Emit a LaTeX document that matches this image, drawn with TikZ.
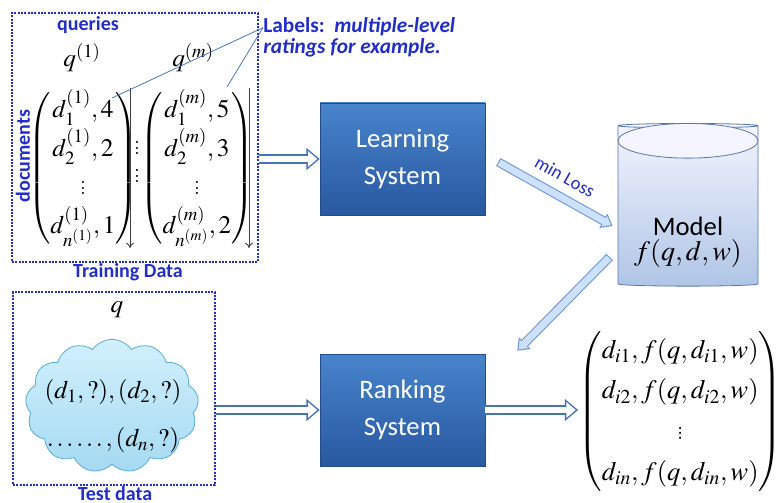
\documentclass[tikz,border=0pt]{standalone}
\usepackage{mathptmx}
\usepackage[no-math]{fontspec}
\setsansfont{Carlito}
\usepackage{amsmath}
\usepackage{tikz}
\usetikzlibrary{arrows.meta,shapes.geometric,shapes.symbols,positioning,calc}
\definecolor{labelblue}{RGB}{35,45,200}
\definecolor{boxtop}{RGB}{72,132,204}
\definecolor{boxbottom}{RGB}{40,88,160}
\definecolor{arrowblue}{RGB}{70,115,190}
\definecolor{paleblue}{RGB}{205,225,250}
\definecolor{rimblue}{RGB}{110,150,210}
\definecolor{cloudtop}{RGB}{210,240,252}
\definecolor{cloudbottom}{RGB}{165,218,242}
\definecolor{cloudrim}{RGB}{90,172,212}
\definecolor{pointerblue}{RGB}{75,120,190}
\tikzstyle{databox} = [rectangle, draw=labelblue, dash pattern=on 1.5pt off 1pt,
    line width=1.8pt, inner sep=0pt]
\tikzstyle{tag} = [font=\sffamily\bfseries\fontsize{15}{17}\selectfont,
    text=labelblue, inner sep=1pt]
\tikzstyle{system} = [rectangle, draw=boxbottom!85!black, top color=boxtop,
    bottom color=boxbottom, text=white, align=center,
    font=\sffamily\fontsize{20}{28}\selectfont,
    minimum width=123.75pt, minimum height=84pt]
\tikzstyle{bigmath} = [font=\fontsize{19}{23}\selectfont, inner sep=0pt]
\tikzstyle{hollow} = [draw=white, line width=4.6pt, shorten >=1.8pt,
    -{Triangle[length=7pt,width=11.4pt]},
    preaction={draw=arrowblue, line width=7pt, shorten >=0pt,
    -{Triangle[length=10pt,width=16pt]}}]
\tikzstyle{pale} = [draw=paleblue, line width=5.2pt, shorten >=1.35pt, shorten <=0.8pt,
    -{Triangle[length=5.9pt,width=8.8pt]},
    preaction={draw=rimblue, line width=6.8pt, shorten >=0pt, shorten <=0pt,
    -{Triangle[length=8pt,width=12pt]}}]
\tikzstyle{pointer} = [draw=pointerblue, line width=0.6pt]
\tikzstyle{down} = [draw=black!75, line width=0.7pt, -{To[length=4pt,width=6pt]}]
\renewcommand{\arraystretch}{1.25}

\begin{document}
\begin{tikzpicture}[x=0.75pt, y=-0.75pt]
  \useasboundingbox (0,0) rectangle (783,503);
    % Place nodes
    \node [databox, minimum width=184.5pt, minimum height=186.75pt] (train) at (135,137.5) {};
    \node [tag] (queries) at (88,25) {queries};
    \node [tag, rotate=90] (documents) at (23,156) {documents};
    \node [tag] (traincap) at (128,272) {Training Data};
    \node [bigmath] (q1) at (82,58) {$q^{(1)}$};
    \node [bigmath] (qm) at (193,58) {$q^{(m)}$};
    \node [bigmath] (lmat) at (83,168) {$\begin{pmatrix} d^{(1)}_1,4 \\ d^{(1)}_2,2 \\ \vdots \\ d^{(1)}_{n^{(1)}},1 \end{pmatrix}$};
    \node [bigmath] (rmat) at (197,168) {$\begin{pmatrix} d^{(m)}_1,5 \\ d^{(m)}_2,3 \\ \vdots \\ d^{(m)}_{n^{(m)}},2 \end{pmatrix}$};
    \node [bigmath, align=center] (gap) at (137,158) {$\vdots$\\[-2pt]$\vdots$};
    \node [anchor=north west, text=labelblue, align=left, inner sep=0pt,
      font=\sffamily\bfseries\fontsize{16}{16}\selectfont] (labels) at (263,17)
      {Labels:\ \ \textit{multiple-level}\\\textit{ratings for example.}};

    \node [system] (learn) at (402.5,159) {Learning\\System};
    \node [system] (rank) at (402.5,410) {Ranking\\System};

    \node [cylinder, shape border rotate=90, aspect=0.5, draw=rimblue!80!black,
      top color=blue!4, bottom color=rimblue!55, line width=0.6pt,
      minimum height=122pt, minimum width=105pt] (model) at (688,206.5) {};
    \path [draw=rimblue!80!black, fill=blue!4, line width=0.6pt]
      ([yshift=-13.3pt]model.top) ellipse [x radius=52.5pt, y radius=13pt];
    \node [align=center, inner sep=0pt] (modeltext) at (688,242)
      {\sffamily\fontsize{20}{26}\selectfont Model\\[2pt]\fontsize{21}{24}\selectfont$f(q,d,w)$};

    \node [databox, minimum width=151.5pt, minimum height=144.75pt] (test) at (114,388.5) {};
    \node [bigmath] (q) at (117,310) {$q$};
    \node [cloud, cloud puffs=13, cloud puff arc=110, draw=cloudrim,
      top color=cloudtop, bottom color=cloudbottom, line width=0.6pt,
      minimum width=130pt, minimum height=100pt] (cloud) at (112,406) {};
    \node [align=center, inner sep=0pt, font=\fontsize{19}{36}\selectfont] (cloudtext) at (113,416)
      {$(d_1,?),(d_2,?)$\\$\ldots\ldots,(d_n,?)$};
    \node [tag] (testcap) at (115,494) {Test data};

    \node [bigmath, font=\fontsize{20}{24.5}\selectfont] (result) at (685,415)
      {$\begin{pmatrix} d_{i1}, f(q,d_{i1},w) \\ d_{i2}, f(q,d_{i2},w) \\ \vdots \\ d_{in}, f(q,d_{in},w) \end{pmatrix}\raisebox{-58pt}{,}$};

    % Draw edges
    \coordinate (ltop) at (130,88);
    \coordinate (lbot) at (130,248);
    \coordinate (rtop) at (249,88);
    \coordinate (rbot) at (249,248);
    \path [down] (ltop) -- (lbot);
    \path [down] (rtop) -- (rbot);
    \coordinate (four) at (112,98);
    \coordinate (five) at (227,87);
    \path [pointer] ([shift={(0pt,-8pt)}]labels.north west) -- (four);
    \path [pointer] ([shift={(0pt,-8pt)}]labels.north west) -- (five);

    \path [hollow] (train.east |- learn.west) -- (learn.west);
    \path [hollow] (test.east |- rank.west) -- (rank.west);
    \path [hollow] (rank.east) -- (rank.east -| result.west);

    \path [pale] ([shift={(9.75pt,-2.25pt)}]learn.east) --
      node [sloped, above=4pt, text=labelblue, font=\sffamily\fontsize{14}{15}\selectfont] {min Loss}
      ([shift={(-3.75pt,-14.6pt)}]model.west);
    \path [pale] ([shift={(-6pt,-37.9pt)}]model.west) -- ([shift={(24pt,2.25pt)}]rank.north east);
\end{tikzpicture}
\end{document}
